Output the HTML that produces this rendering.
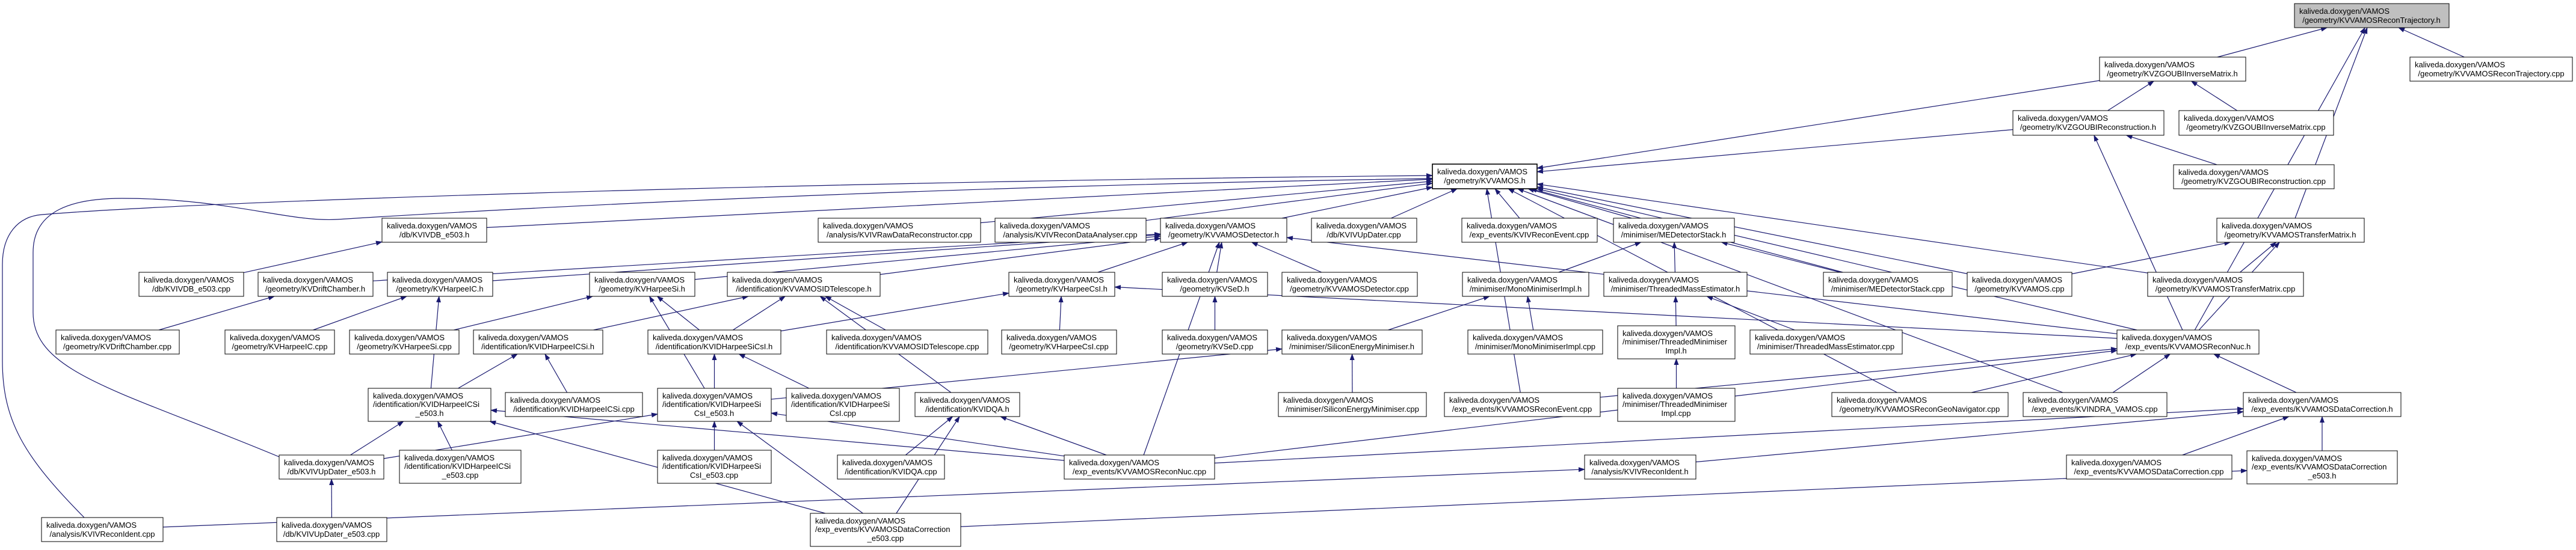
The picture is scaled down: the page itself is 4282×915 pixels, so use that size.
<!DOCTYPE html>
<html><head><meta charset="utf-8"><style>
html,body{margin:0;padding:0;background:#fff;}
svg{display:block;}
text{font-family:"Liberation Sans",sans-serif;font-size:13px;fill:#000;}
rect{stroke:#000;stroke-width:1;fill:#fff;}
.e{fill:none;stroke:#191970;stroke-width:1.2;}
</style></head><body>
<svg id="s" width="4282" height="915" viewBox="0 0 4282 915" xmlns="http://www.w3.org/2000/svg">
<defs><marker id="a" markerUnits="userSpaceOnUse" markerWidth="11" markerHeight="9" refX="10" refY="4" orient="auto"><path d="M0,0 L11,4 L0,8 z" fill="#191970"/></marker></defs>
<g id="edges"></g>
<path class="e" marker-end="url(#a)" d="M140,861 C40,760 4,700 4,600 L4,440 C4,390 30,360 70,357 C400,330 1500,300 2381,292"/>
<path class="e" marker-end="url(#a)" d="M464,760 C200,650 55,620 55,520 L55,420 C55,350 120,330 203,330 C380,330 480,370 561,365 C800,350 1500,310 2381,297"/>
<g id="nodes">
<rect x="3814" y="6" width="257" height="40" style="fill:#bfbfbf"/><text x="3822" y="23">kaliveda.doxygen/VAMOS</text><text x="3942" y="38" text-anchor="middle">/geometry/KVVAMOSReconTrajectory.h</text>
<rect x="3490" y="95" width="243" height="40"/><text x="3498" y="112">kaliveda.doxygen/VAMOS</text><text x="3611" y="127" text-anchor="middle">/geometry/KVZGOUBIInverseMatrix.h</text>
<rect x="4006" y="95" width="270" height="40"/><text x="4014" y="112">kaliveda.doxygen/VAMOS</text><text x="4141" y="127" text-anchor="middle">/geometry/KVVAMOSReconTrajectory.cpp</text>
<rect x="3346" y="184" width="251" height="41"/><text x="3354" y="201">kaliveda.doxygen/VAMOS</text><text x="3471" y="216" text-anchor="middle">/geometry/KVZGOUBIReconstruction.h</text>
<rect x="3622" y="184" width="257" height="41"/><text x="3630" y="201">kaliveda.doxygen/VAMOS</text><text x="3750" y="216" text-anchor="middle">/geometry/KVZGOUBIInverseMatrix.cpp</text>
<rect x="3613" y="274" width="267" height="40"/><text x="3621" y="291">kaliveda.doxygen/VAMOS</text><text x="3746" y="306" text-anchor="middle">/geometry/KVZGOUBIReconstruction.cpp</text>
<rect x="2381" y="273" width="174" height="41" style="stroke-width:1.6"/><text x="2389" y="290">kaliveda.doxygen/VAMOS</text><text x="2468" y="305" text-anchor="middle">/geometry/KVVAMOS.h</text>
<rect x="3685" y="363" width="245" height="40"/><text x="3693" y="380">kaliveda.doxygen/VAMOS</text><text x="3807" y="395" text-anchor="middle">/geometry/KVVAMOSTransferMatrix.h</text>
<rect x="635" y="363" width="174" height="40"/><text x="643" y="380">kaliveda.doxygen/VAMOS</text><text x="722" y="395" text-anchor="middle">/db/KVIVDB_e503.h</text>
<rect x="1360" y="363" width="270" height="40"/><text x="1368" y="380">kaliveda.doxygen/VAMOS</text><text x="1495" y="395" text-anchor="middle">/analysis/KVIVRawDataReconstructor.cpp</text>
<rect x="1654" y="363" width="251" height="40"/><text x="1662" y="380">kaliveda.doxygen/VAMOS</text><text x="1779" y="395" text-anchor="middle">/analysis/KVIVReconDataAnalyser.cpp</text>
<rect x="1929" y="363" width="210" height="40"/><text x="1937" y="380">kaliveda.doxygen/VAMOS</text><text x="2034" y="395" text-anchor="middle">/geometry/KVVAMOSDetector.h</text>
<rect x="2180" y="363" width="175" height="40"/><text x="2188" y="380">kaliveda.doxygen/VAMOS</text><text x="2267" y="395" text-anchor="middle">/db/KVIVUpDater.cpp</text>
<rect x="2430" y="363" width="225" height="40"/><text x="2438" y="380">kaliveda.doxygen/VAMOS</text><text x="2542" y="395" text-anchor="middle">/exp_events/KVIVReconEvent.cpp</text>
<rect x="2682" y="363" width="201" height="40"/><text x="2690" y="380">kaliveda.doxygen/VAMOS</text><text x="2782" y="395" text-anchor="middle">/minimiser/MEDetectorStack.h</text>
<rect x="231" y="453" width="174" height="40"/><text x="239" y="470">kaliveda.doxygen/VAMOS</text><text x="318" y="485" text-anchor="middle">/db/KVIVDB_e503.cpp</text>
<rect x="429" y="453" width="191" height="40"/><text x="437" y="470">kaliveda.doxygen/VAMOS</text><text x="524" y="485" text-anchor="middle">/geometry/KVDriftChamber.h</text>
<rect x="644" y="453" width="175" height="40"/><text x="652" y="470">kaliveda.doxygen/VAMOS</text><text x="731" y="485" text-anchor="middle">/geometry/KVHarpeeIC.h</text>
<rect x="980" y="453" width="175" height="40"/><text x="988" y="470">kaliveda.doxygen/VAMOS</text><text x="1067" y="485" text-anchor="middle">/geometry/KVHarpeeSi.h</text>
<rect x="1209" y="453" width="254" height="40"/><text x="1217" y="470">kaliveda.doxygen/VAMOS</text><text x="1336" y="485" text-anchor="middle">/identification/KVVAMOSIDTelescope.h</text>
<rect x="1677" y="453" width="176" height="40"/><text x="1685" y="470">kaliveda.doxygen/VAMOS</text><text x="1765" y="485" text-anchor="middle">/geometry/KVHarpeeCsI.h</text>
<rect x="1932" y="453" width="175" height="40"/><text x="1940" y="470">kaliveda.doxygen/VAMOS</text><text x="2019" y="485" text-anchor="middle">/geometry/KVSeD.h</text>
<rect x="2131" y="453" width="225" height="40"/><text x="2139" y="470">kaliveda.doxygen/VAMOS</text><text x="2243" y="485" text-anchor="middle">/geometry/KVVAMOSDetector.cpp</text>
<rect x="2431" y="453" width="210" height="40"/><text x="2439" y="470">kaliveda.doxygen/VAMOS</text><text x="2536" y="485" text-anchor="middle">/minimiser/MonoMinimiserImpl.h</text>
<rect x="2666" y="453" width="238" height="40"/><text x="2674" y="470">kaliveda.doxygen/VAMOS</text><text x="2785" y="485" text-anchor="middle">/minimiser/ThreadedMassEstimator.h</text>
<rect x="3031" y="453" width="214" height="40"/><text x="3039" y="470">kaliveda.doxygen/VAMOS</text><text x="3138" y="485" text-anchor="middle">/minimiser/MEDetectorStack.cpp</text>
<rect x="3270" y="453" width="174" height="40"/><text x="3278" y="470">kaliveda.doxygen/VAMOS</text><text x="3357" y="485" text-anchor="middle">/geometry/KVVAMOS.cpp</text>
<rect x="3570" y="453" width="259" height="40"/><text x="3578" y="470">kaliveda.doxygen/VAMOS</text><text x="3699" y="485" text-anchor="middle">/geometry/KVVAMOSTransferMatrix.cpp</text>
<rect x="93" y="549" width="205" height="40"/><text x="101" y="566">kaliveda.doxygen/VAMOS</text><text x="195" y="581" text-anchor="middle">/geometry/KVDriftChamber.cpp</text>
<rect x="374" y="549" width="182" height="40"/><text x="382" y="566">kaliveda.doxygen/VAMOS</text><text x="465" y="581" text-anchor="middle">/geometry/KVHarpeeIC.cpp</text>
<rect x="581" y="549" width="182" height="40"/><text x="589" y="566">kaliveda.doxygen/VAMOS</text><text x="672" y="581" text-anchor="middle">/geometry/KVHarpeeSi.cpp</text>
<rect x="787" y="549" width="215" height="40"/><text x="795" y="566">kaliveda.doxygen/VAMOS</text><text x="894" y="581" text-anchor="middle">/identification/KVIDHarpeeICSi.h</text>
<rect x="1077" y="549" width="221" height="40"/><text x="1085" y="566">kaliveda.doxygen/VAMOS</text><text x="1187" y="581" text-anchor="middle">/identification/KVIDHarpeeSiCsI.h</text>
<rect x="1374" y="549" width="268" height="40"/><text x="1382" y="566">kaliveda.doxygen/VAMOS</text><text x="1508" y="581" text-anchor="middle">/identification/KVVAMOSIDTelescope.cpp</text>
<rect x="1665" y="549" width="191" height="40"/><text x="1673" y="566">kaliveda.doxygen/VAMOS</text><text x="1760" y="581" text-anchor="middle">/geometry/KVHarpeeCsI.cpp</text>
<rect x="1932" y="549" width="175" height="40"/><text x="1940" y="566">kaliveda.doxygen/VAMOS</text><text x="2019" y="581" text-anchor="middle">/geometry/KVSeD.cpp</text>
<rect x="2131" y="549" width="233" height="40"/><text x="2139" y="566">kaliveda.doxygen/VAMOS</text><text x="2247" y="581" text-anchor="middle">/minimiser/SiliconEnergyMinimiser.h</text>
<rect x="2440" y="549" width="224" height="40"/><text x="2448" y="566">kaliveda.doxygen/VAMOS</text><text x="2552" y="581" text-anchor="middle">/minimiser/MonoMinimiserImpl.cpp</text>
<rect x="2689" y="542" width="195" height="55"/><text x="2697" y="559">kaliveda.doxygen/VAMOS</text><text x="2697" y="573">/minimiser/ThreadedMinimiser</text><text x="2786" y="588" text-anchor="middle">Impl.h</text>
<rect x="2909" y="549" width="253" height="40"/><text x="2917" y="566">kaliveda.doxygen/VAMOS</text><text x="3035" y="581" text-anchor="middle">/minimiser/ThreadedMassEstimator.cpp</text>
<rect x="3519" y="549" width="236" height="40"/><text x="3527" y="566">kaliveda.doxygen/VAMOS</text><text x="3637" y="581" text-anchor="middle">/exp_events/KVVAMOSReconNuc.h</text>
<rect x="612" y="646" width="204" height="55"/><text x="620" y="663">kaliveda.doxygen/VAMOS</text><text x="620" y="677">/identification/KVIDHarpeeICSi</text><text x="714" y="692" text-anchor="middle">_e503.h</text>
<rect x="840" y="653" width="228" height="40"/><text x="848" y="670">kaliveda.doxygen/VAMOS</text><text x="954" y="685" text-anchor="middle">/identification/KVIDHarpeeICSi.cpp</text>
<rect x="1093" y="646" width="189" height="55"/><text x="1101" y="663">kaliveda.doxygen/VAMOS</text><text x="1101" y="677">/identification/KVIDHarpeeSi</text><text x="1187" y="692" text-anchor="middle">CsI_e503.h</text>
<rect x="1307" y="646" width="188" height="55"/><text x="1315" y="663">kaliveda.doxygen/VAMOS</text><text x="1315" y="677">/identification/KVIDHarpeeSi</text><text x="1401" y="692" text-anchor="middle">CsI.cpp</text>
<rect x="1521" y="653" width="174" height="40"/><text x="1529" y="670">kaliveda.doxygen/VAMOS</text><text x="1608" y="685" text-anchor="middle">/identification/KVIDQA.h</text>
<rect x="2125" y="653" width="246" height="40"/><text x="2133" y="670">kaliveda.doxygen/VAMOS</text><text x="2248" y="685" text-anchor="middle">/minimiser/SiliconEnergyMinimiser.cpp</text>
<rect x="2401" y="653" width="259" height="40"/><text x="2409" y="670">kaliveda.doxygen/VAMOS</text><text x="2530" y="685" text-anchor="middle">/exp_events/KVVAMOSReconEvent.cpp</text>
<rect x="2689" y="646" width="195" height="55"/><text x="2697" y="663">kaliveda.doxygen/VAMOS</text><text x="2697" y="677">/minimiser/ThreadedMinimiser</text><text x="2786" y="692" text-anchor="middle">Impl.cpp</text>
<rect x="3045" y="653" width="293" height="40"/><text x="3053" y="670">kaliveda.doxygen/VAMOS</text><text x="3191" y="685" text-anchor="middle">/geometry/KVVAMOSReconGeoNavigator.cpp</text>
<rect x="3363" y="653" width="239" height="40"/><text x="3371" y="670">kaliveda.doxygen/VAMOS</text><text x="3482" y="685" text-anchor="middle">/exp_events/KVINDRA_VAMOS.cpp</text>
<rect x="3729" y="653" width="262" height="40"/><text x="3737" y="670">kaliveda.doxygen/VAMOS</text><text x="3860" y="685" text-anchor="middle">/exp_events/KVVAMOSDataCorrection.h</text>
<rect x="464" y="757" width="174" height="40"/><text x="472" y="774">kaliveda.doxygen/VAMOS</text><text x="551" y="789" text-anchor="middle">/db/KVIVUpDater_e503.h</text>
<rect x="664" y="749" width="202" height="55"/><text x="672" y="766">kaliveda.doxygen/VAMOS</text><text x="672" y="780">/identification/KVIDHarpeeICSi</text><text x="765" y="795" text-anchor="middle">_e503.cpp</text>
<rect x="1093" y="749" width="189" height="55"/><text x="1101" y="766">kaliveda.doxygen/VAMOS</text><text x="1101" y="780">/identification/KVIDHarpeeSi</text><text x="1187" y="795" text-anchor="middle">CsI_e503.cpp</text>
<rect x="1392" y="757" width="178" height="40"/><text x="1400" y="774">kaliveda.doxygen/VAMOS</text><text x="1481" y="789" text-anchor="middle">/identification/KVIDQA.cpp</text>
<rect x="1769" y="757" width="250" height="40"/><text x="1777" y="774">kaliveda.doxygen/VAMOS</text><text x="1894" y="789" text-anchor="middle">/exp_events/KVVAMOSReconNuc.cpp</text>
<rect x="2634" y="757" width="185" height="40"/><text x="2642" y="774">kaliveda.doxygen/VAMOS</text><text x="2726" y="789" text-anchor="middle">/analysis/KVIVReconIdent.h</text>
<rect x="3435" y="757" width="275" height="40"/><text x="3443" y="774">kaliveda.doxygen/VAMOS</text><text x="3572" y="789" text-anchor="middle">/exp_events/KVVAMOSDataCorrection.cpp</text>
<rect x="3735" y="750" width="250" height="55"/><text x="3743" y="767">kaliveda.doxygen/VAMOS</text><text x="3743" y="781">/exp_events/KVVAMOSDataCorrection</text><text x="3860" y="796" text-anchor="middle">_e503.h</text>
<rect x="69" y="861" width="202" height="40"/><text x="77" y="878">kaliveda.doxygen/VAMOS</text><text x="170" y="893" text-anchor="middle">/analysis/KVIVReconIdent.cpp</text>
<rect x="460" y="861" width="183" height="40"/><text x="468" y="878">kaliveda.doxygen/VAMOS</text><text x="551" y="893" text-anchor="middle">/db/KVIVUpDater_e503.cpp</text>
<rect x="1347" y="854" width="250" height="55"/><text x="1355" y="871">kaliveda.doxygen/VAMOS</text><text x="1355" y="885">/exp_events/KVVAMOSDataCorrection</text><text x="1472" y="900" text-anchor="middle">_e503.cpp</text>
</g>
</svg>
<script>
var N={T:[3814,6,257,40],ZIM:[3490,95,243,40],RTC:[4006,95,270,40],ZR:[3346,184,251,41],ZIMC:[3622,184,257,41],ZRC:[3613,274,267,40],V:[2381,273,174,41],TM:[3685,363,245,40],DB:[635,363,174,40],RAW:[1360,363,270,40],RDA:[1654,363,251,40],DET:[1929,363,210,40],UPD:[2180,363,175,40],REV:[2430,363,225,40],MES:[2682,363,201,40],
DBC:[231,453,174,40],DCH:[429,453,191,40],HIC:[644,453,175,40],HSI:[980,453,175,40],IDT:[1209,453,254,40],HCS:[1677,453,176,40],SED:[1932,453,175,40],DETC:[2131,453,225,40],MMI:[2431,453,210,40],TME:[2666,453,238,40],MESC:[3031,453,214,40],VC:[3270,453,174,40],TMC:[3570,453,259,40],
DCHC:[93,549,205,40],HICC:[374,549,182,40],HSIC:[581,549,182,40],IDHIS:[787,549,215,40],IDHSC:[1077,549,221,40],IDTC:[1374,549,268,40],HCSC:[1665,549,191,40],SEDC:[1932,549,175,40],SEM:[2131,549,233,40],MMIC:[2440,549,224,40],TMI:[2689,542,195,55],TMEC:[2909,549,253,40],RNH:[3519,549,236,40],
IHE:[612,646,204,55],IHC:[840,653,228,40],ISE:[1093,646,189,55],ISC:[1307,646,188,55],QA:[1521,653,174,40],SEMC:[2125,653,246,40],VREC:[2401,653,259,40],TMIC:[2689,646,195,55],GEO:[3045,653,293,40],INDRA:[3363,653,239,40],DCH2:[3729,653,262,40],
UPE:[464,757,174,40],IHEC:[664,749,202,55],ISEC:[1093,749,189,55],QAC:[1392,757,178,40],RNC:[1769,757,250,40],RIH:[2634,757,185,40],DCC:[3435,757,275,40],DCE:[3735,750,250,55],RIC:[69,861,202,40],UPEC:[460,861,183,40],DCEC:[1347,854,250,55]};
var E=[["ZIM","T"],["RTC","T"],["TM","T"],["RNH","T"],["ZR","ZIM"],["ZIMC","ZIM"],["ZIM","V"],["ZR","V"],["ZRC","ZR"],["RNH","ZR"],["TMC","TM"],["VC","TM"],["RNH","TM"],
["DB","V"],["RAW","V"],["RDA","V"],["DET","V"],["UPD","V"],["REV","V"],["MES","V"],["VREC","V"],["VC","V"],["TMC","V"],["GEO","V"],["INDRA","V"],["RNH","V"],["MESC","V"],
["DBC","DB"],["DCH","DET"],["HIC","DET"],["HSI","DET"],["IDT","DET"],["HCS","DET"],["SED","DET"],["DETC","DET"],["RNC","DET"],["RNH","DET"],
["DCHC","DCH"],["HICC","HIC"],["IHE","HIC"],["HSIC","HSI"],["ISE","HSI"],["IDHSC","HSI"],["IDHIS","IDT"],["IDHSC","IDT"],["QA","IDT"],["IDTC","IDT"],
["IDHSC","HCS"],["HCSC","HCS"],["RNH","HCS"],["SEDC","SED"],["IHE","IDHIS"],["IHC","IDHIS"],["ISE","IDHSC"],["ISC","IDHSC"],
["UPE","IHE"],["IHEC","IHE"],["RNC","IHE"],["DCEC","IHE"],["ISEC","ISE"],["UPE","ISE"],["RNC","ISE"],["DCEC","ISE"],["QAC","QA"],["DCEC","QA"],["RNC","QA"],
["MMI","MES"],["TME","MES"],["MESC","MES"],["SEM","MMI"],["MMIC","MMI"],["SEMC","SEM"],["ISE","SEM"],["TMI","TME"],["TMEC","TME"],["TMIC","TMI"],
["GEO","RNH"],["INDRA","RNH"],["RNC","RNH"],["DCH2","RNH"],["VREC","RNH"],["DCC","DCH2"],["DCE","DCH2"],["RIH","DCH2"],["RNC","DCH2"],["DCEC","DCE"],["RIC","RIH"],["UPEC","UPE"]];
function bp(b,px,py){var cx=b[0]+b[2]/2,cy=b[1]+b[3]/2,dx=px-cx,dy=py-cy;var t=Math.min(dx?b[2]/2/Math.abs(dx):1e9,dy?b[3]/2/Math.abs(dy):1e9);return[cx+dx*t,cy+dy*t];}
var g=document.getElementById("edges"),h="";
E.forEach(function(e){var a=N[e[0]],b=N[e[1]];var ac=[a[0]+a[2]/2,a[1]+a[3]/2],bc=[b[0]+b[2]/2,b[1]+b[3]/2];
var p=bp(a,bc[0],bc[1]),q=bp(b,ac[0],ac[1]);
h+='<path class="e" marker-end="url(#a)" d="M'+p[0].toFixed(1)+','+p[1].toFixed(1)+' L'+q[0].toFixed(1)+','+q[1].toFixed(1)+'"/>';});
g.innerHTML=h;
</script>
</body></html>
